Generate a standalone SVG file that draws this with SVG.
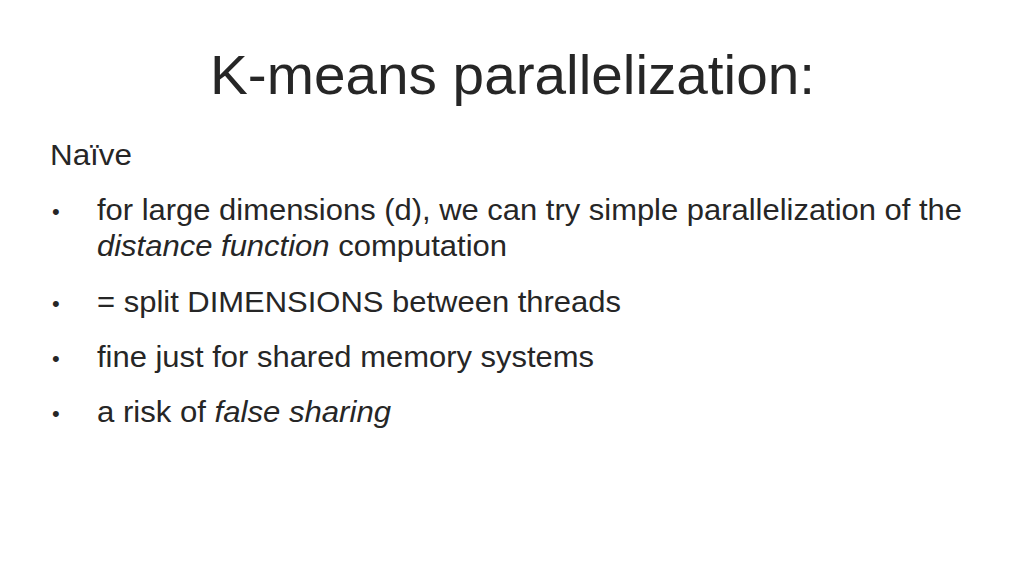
<svg xmlns="http://www.w3.org/2000/svg" width="1024" height="577" viewBox="0 0 1024 577">
<style>
text{font-family:"Liberation Sans",Arial,sans-serif;fill:#262626}
.b{font-size:30px}
</style>
<rect width="1024" height="577" fill="#fff"/>
<text x="210" y="94" font-size="56" textLength="605" lengthAdjust="spacingAndGlyphs" fill="#000">K-means parallelization:</text>
<text class="b" x="50" y="165" textLength="82" lengthAdjust="spacingAndGlyphs">Naïve</text>
<text font-size="22" x="52" y="219">•</text>
<text class="b" x="97" y="220" textLength="865" lengthAdjust="spacingAndGlyphs">for large dimensions (d), we can try simple parallelization of the</text>
<text class="b" x="97" y="256" textLength="410" lengthAdjust="spacingAndGlyphs"><tspan font-style="italic">distance function</tspan> computation</text>
<text font-size="22" x="52" y="311">•</text>
<text class="b" x="97" y="312" textLength="524" lengthAdjust="spacingAndGlyphs">= split DIMENSIONS between threads</text>
<text font-size="22" x="52" y="366">•</text>
<text class="b" x="97" y="367" textLength="497" lengthAdjust="spacingAndGlyphs">fine just for shared memory systems</text>
<text font-size="22" x="52" y="421">•</text>
<text class="b" x="97" y="422" textLength="294" lengthAdjust="spacingAndGlyphs">a risk of <tspan font-style="italic">false sharing</tspan></text>
</svg>
